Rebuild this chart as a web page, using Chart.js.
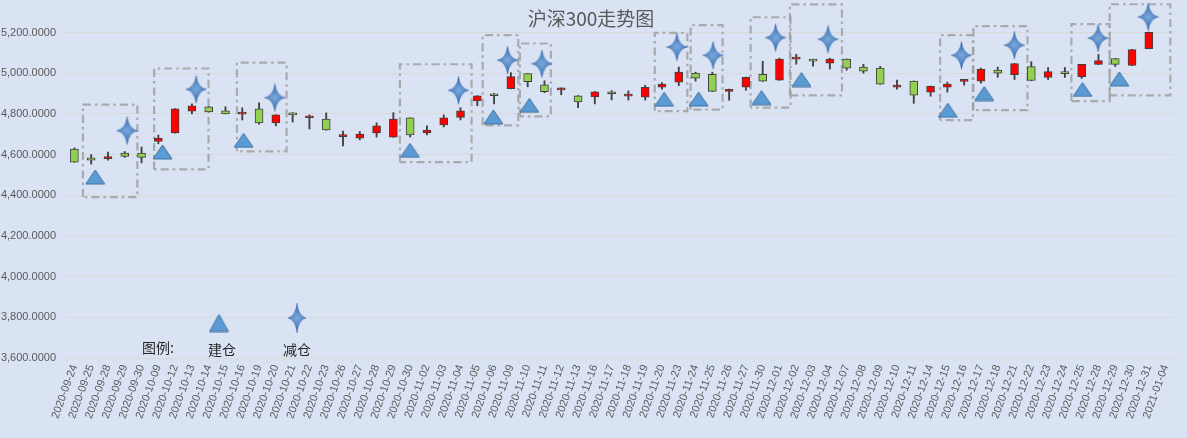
<!DOCTYPE html>
<html>
<head>
<meta charset="utf-8">
<script src="https://cdn.jsdelivr.net/npm/chart.js@4.4.1/dist/chart.umd.min.js"></script>
<style>
  html, body { margin: 0; padding: 0; background: #DAE3F3; }
  #wrap { width: 1187px; height: 438px; }
</style>
</head>
<body>
<div id="wrap"><canvas id="kline"></canvas></div>
<script>
const dates = ["2020-09-24", "2020-09-25", "2020-09-28", "2020-09-29", "2020-09-30", "2020-10-09",
    "2020-10-12", "2020-10-13", "2020-10-14", "2020-10-15", "2020-10-16", "2020-10-19", "2020-10-20",
    "2020-10-21", "2020-10-22", "2020-10-23", "2020-10-26", "2020-10-27", "2020-10-28", "2020-10-29",
    "2020-10-30", "2020-11-02", "2020-11-03", "2020-11-04", "2020-11-05", "2020-11-06", "2020-11-09",
    "2020-11-10", "2020-11-11", "2020-11-12", "2020-11-13", "2020-11-16", "2020-11-17", "2020-11-18",
    "2020-11-19", "2020-11-20", "2020-11-23", "2020-11-24", "2020-11-25", "2020-11-26", "2020-11-27",
    "2020-11-30", "2020-12-01", "2020-12-02", "2020-12-03", "2020-12-04", "2020-12-07", "2020-12-08",
    "2020-12-09", "2020-12-10", "2020-12-11", "2020-12-14", "2020-12-15", "2020-12-16", "2020-12-17",
    "2020-12-18", "2020-12-21", "2020-12-22", "2020-12-23", "2020-12-24", "2020-12-25", "2020-12-28",
    "2020-12-29", "2020-12-30", "2020-12-31", "2021-01-04"];

const openVals = [4627, 4584, 4580, 4607, 4607, 4665, 4706, 4813, 4835, 4815, 4799, 4825, 4756,
    4805, 4781, 4775, 4688, 4681, 4706, 4686, 4780, 4706, 4746, 4783, 4864, 4899, 4924,
    4998, 4943, 4918, 4889, 4884, 4909, 4887, 4882, 4931, 4956, 5000, 4995, 4911, 4931,
    4995, 4966, 5069, 5069, 5049, 5069, 5030, 5025, 4931, 4961, 4907, 4931, 4960, 4961,
    5015, 4993, 5033, 4979, 5008, 4983, 5043, 5072, 5038, 5121, null];
const highVals = [4633, 4600, 4612, 4615, 4637, 4696, 4826, 4849, 4836, 4835, 4830, 4854, 4796,
    4806, 4795, 4805, 4716, 4713, 4756, 4806, 4781, 4741, 4795, 4830, 4890, 4900, 5003,
    4999, 4963, 4928, 4890, 4910, 4914, 4913, 4941, 4954, 5030, 5005, 5005, 4922, 4981,
    5059, 5074, 5093, 5070, 5074, 5070, 5044, 5034, 4966, 4962, 4937, 4956, 4970, 5025,
    5030, 5048, 5057, 5028, 5028, 5044, 5092, 5073, 5117, 5202, null];
const lowVals = [4562, 4553, 4573, 4586, 4559, 4653, 4705, 4800, 4809, 4800, 4770, 4749, 4741,
    4760, 4726, 4720, 4642, 4672, 4686, 4685, 4686, 4696, 4736, 4770, 4840, 4849, 4923,
    4933, 4904, 4894, 4830, 4849, 4869, 4868, 4868, 4921, 4939, 4961, 4910, 4867, 4916,
    4960, 4965, 5044, 5034, 5020, 5015, 5000, 4945, 4921, 4852, 4887, 4907, 4941, 4951,
    4980, 4969, 4963, 4969, 4979, 4974, 5042, 5033, 5037, 5120, null];
const closeVals = [4563, 4573, 4581, 4591, 4586, 4681, 4825, 4840, 4810, 4800, 4801, 4756, 4795,
    4795, 4783, 4721, 4690, 4701, 4741, 4775, 4696, 4721, 4780, 4815, 4889, 4889, 4983,
    4958, 4909, 4920, 4859, 4909, 4899, 4889, 4931, 4947, 5005, 4975, 4911, 4921, 4980,
    4961, 5069, 5071, 5059, 5069, 5025, 5010, 4946, 4941, 4892, 4936, 4946, 4962, 5020,
    5000, 5047, 4964, 5008, 4998, 5043, 5062, 5043, 5116, 5201, null];

// 建仓 / 减仓 marks (x = trading-day index)
const buyX = [1.24, 5.25, 10.08, 19.99, 24.96, 27.1, 35.13, 37.18, 40.93, 43.31, 52.03, 54.19, 60.05, 62.24];
const buyY = [4490, 4613, 4670, 4621, 4785, 4842, 4872, 4873, 4880, 4969, 4818, 4900, 4920, 4972];
const sellX = [3.14, 7.25, 11.94, 22.88, 25.8, 27.85, 35.89, 38.04, 41.77, 44.89, 52.84, 55.99, 60.98, 63.96];
const sellY = [4718, 4921, 4880, 4916, 5064, 5047, 5129, 5088, 5175, 5167, 5088, 5138, 5173, 5277];

// dashed frames around each trade
const boxFrom = [0.51, 4.75, 9.68, 19.39, 24.32, 26.54, 34.57, 36.71, 40.28, 42.62, 51.57, 53.55, 59.39, 61.67];
const boxTo = [3.75, 7.99, 12.64, 23.66, 26.44, 28.38, 36.51, 38.61, 42.66, 45.72, 53.52, 56.77, 61.67, 65.28];
const boxLow = [4391, 4527, 4616, 4563, 4744, 4788, 4814, 4821, 4831, 4891, 4769, 4818, 4863, 4891];
const boxHigh = [4846, 5023, 5052, 5044, 5187, 5146, 5198, 5236, 5275, 5338, 5187, 5231, 5241, 5339];

const yTicks = [3600, 3800, 4000, 4200, 4400, 4600, 4800, 5000, 5200];

const upColor = '#FF0000';
const downColor = '#92D050';
const edgeColor = '#404040';

function makeTriangle(w, h) {
    const c = document.createElement('canvas');
    c.width = w + 2; c.height = h + 2;
    const g = c.getContext('2d');
    g.beginPath();
    g.moveTo(c.width / 2, 1);
    g.lineTo(c.width - 1, c.height - 1);
    g.lineTo(1, c.height - 1);
    g.closePath();
    g.fillStyle = '#5B9BD5';
    g.fill();
    g.strokeStyle = '#41719C';
    g.lineWidth = 1;
    g.stroke();
    return c;
}

function makeStar(w, h) {
    const c = document.createElement('canvas');
    c.width = w + 2; c.height = h + 2;
    const g = c.getContext('2d');
    const cx = c.width / 2, cy = c.height / 2;
    const rx = w / 2, ry = h / 2, k = 1.6;
    g.beginPath();
    g.moveTo(cx, cy - ry);
    g.quadraticCurveTo(cx + k, cy - k, cx + rx, cy);
    g.quadraticCurveTo(cx + k, cy + k, cx, cy + ry);
    g.quadraticCurveTo(cx - k, cy + k, cx - rx, cy);
    g.quadraticCurveTo(cx - k, cy - k, cx, cy - ry);
    g.closePath();
    const grad = g.createRadialGradient(cx, cy, 0, cx, cy, ry * 0.8);
    grad.addColorStop(0, '#7BA9DE');
    grad.addColorStop(1, '#3E73B3');
    g.fillStyle = grad;
    g.fill();
    g.strokeStyle = 'rgba(60,105,165,0.5)';
    g.lineWidth = 0.8;
    g.stroke();
    return c;
}

const triangleMark = makeTriangle(19, 14);
const starMark = makeStar(21, 28);
const triangleKey = makeTriangle(19, 17);
const starKey = makeStar(18, 30);

const bodyData = dates.map((d, i) => ({x: i, y: openVals[i] == null ? null : [openVals[i], closeVals[i]]}));
const wickData = dates.map((d, i) => ({x: i, y: lowVals[i] == null ? null : [lowVals[i], highVals[i]]}));
const bodyColors = dates.map((d, i) => closeVals[i] >= openVals[i] ? upColor : downColor);

const boxSets = boxFrom.map((x0, i) => ({
    type: 'line',
    data: [
        {x: x0, y: boxLow[i]}, {x: x0, y: boxHigh[i]},
        {x: boxTo[i], y: boxHigh[i]}, {x: boxTo[i], y: boxLow[i]},
        {x: x0, y: boxLow[i]}
    ],
    borderColor: 'rgba(160,160,160,0.85)',
    borderWidth: 2.2,
    borderDash: [8, 4, 2.5, 4],
    pointRadius: 0,
    fill: false,
    tension: 0,
    clip: false,
    order: 5
}));

const bgPlugin = {
    id: 'bg',
    beforeDraw(chart) {
        const ctx = chart.ctx;
        ctx.save();
        ctx.fillStyle = '#DAE3F3';
        ctx.fillRect(0, 0, chart.width, chart.height);
        ctx.restore();
    }
};

const titleAndKey = {
    id: 'titleAndKey',
    afterDraw(chart) {
        const ctx = chart.ctx;
        ctx.save();
        ctx.fillStyle = '#595959';
        ctx.font = '19px "Noto Sans CJK SC", "Noto Sans", sans-serif';
        ctx.textAlign = 'center';
        ctx.textBaseline = 'middle';
        ctx.fillText('沪深300走势图', 591, 19);

        ctx.fillStyle = '#262626';
        ctx.font = '14px "Noto Sans CJK SC", sans-serif';
        ctx.fillText('图例:', 158, 348);
        ctx.fillText('建仓', 222, 350);
        ctx.fillText('减仓', 297, 350);
        ctx.drawImage(triangleKey, 219 - triangleKey.width / 2, 323 - triangleKey.height / 2);
        ctx.drawImage(starKey, 297 - starKey.width / 2, 318 - starKey.height / 2);
        ctx.restore();
    }
};

const klineChart = new Chart(document.getElementById('kline'), {
    type: 'bar',
    data: {
        datasets: [
            {
                type: 'scatter',
                data: sellX.map((x, i) => ({x: x, y: sellY[i]})),
                pointStyle: starMark,
                pointRadius: 12,
                clip: false,
                order: 0
            },
            {
                type: 'scatter',
                data: buyX.map((x, i) => ({x: x, y: buyY[i]})),
                pointStyle: triangleMark,
                pointRadius: 10,
                order: 0
            },
            {
                data: bodyData,
                backgroundColor: bodyColors,
                borderColor: edgeColor,
                borderWidth: 1,
                borderSkipped: false,
                barThickness: 8,
                minBarLength: 2,
                grouped: false,
                order: 1
            },
            {
                data: wickData,
                backgroundColor: edgeColor,
                borderWidth: 0,
                barThickness: 1.2,
                grouped: false,
                order: 2
            },
            ...boxSets
        ]
    },
    options: {
        responsive: true,
        maintainAspectRatio: false,
        animation: false,
        layout: {
            autoPadding: false,
            padding: {top: 2, right: 13, left: 0, bottom: 0}
        },
        plugins: {
            legend: {display: false},
            tooltip: {enabled: false},
            title: {display: false}
        },
        scales: {
            x: {
                type: 'linear',
                offset: false,
                min: -0.5,
                max: dates.length - 0.5,
                afterBuildTicks(axis) {
                    axis.ticks = dates.map((d, i) => ({value: i}));
                },
                grid: {
                    display: true,
                    drawOnChartArea: false,
                    offset: true,
                    tickLength: 5,
                    color: '#D9D9D9'
                },
                border: {display: true, color: '#D9D9D9'},
                ticks: {
                    autoSkip: false,
                    minRotation: 70,
                    maxRotation: 70,
                    padding: 0,
                    color: '#595959',
                    font: {family: '"Liberation Sans", sans-serif', size: 11},
                    callback: v => dates[v]
                },
                afterFit(scale) {
                    scale.height = 80;
                    scale.paddingLeft = 0;
                    scale.paddingRight = 0;
                }
            },
            y: {
                min: 3600,
                max: 5350,
                afterBuildTicks(axis) {
                    axis.ticks = yTicks.map(v => ({value: v}));
                },
                grid: {
                    color: '#D9D9D9',
                    drawTicks: false
                },
                border: {display: false},
                ticks: {
                    padding: 10,
                    color: '#595959',
                    font: {family: '"Liberation Sans", sans-serif', size: 11},
                    callback: v => v.toLocaleString('en-US', {minimumFractionDigits: 4, maximumFractionDigits: 4})
                },
                afterFit(scale) {
                    scale.width = 66;
                    scale.paddingTop = 0;
                    scale.paddingBottom = 0;
                }
            }
        }
    },
    plugins: [bgPlugin, titleAndKey]
});
</script>
</body>
</html>
